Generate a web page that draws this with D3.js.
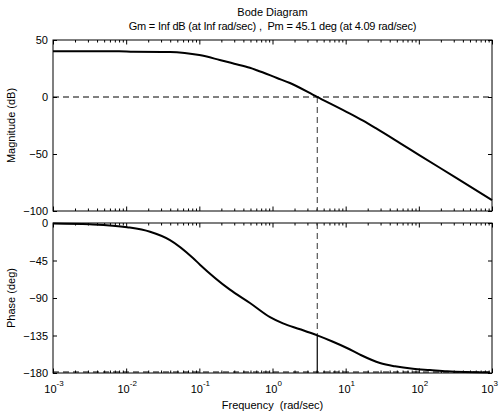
<!DOCTYPE html>
<html>
<head>
<meta charset="utf-8">
<script src="https://cdn.jsdelivr.net/npm/d3@7"></script>
<style>
  body { margin: 0; background: #fff; }
  svg { display: block; font-family: "Liberation Sans", Arial, sans-serif; }
  text { white-space: pre; }
</style>
</head>
<body>
<div id="chart"></div>
<script>
// values
var magFreq = [0.001, 0.008, 0.0126, 0.04, 0.063, 0.1, 0.19, 0.3, 0.49, 0.61, 1.15, 1.73, 4.06, 10.4, 17.3, 26.8, 55.2, 100, 316, 1000];
var magDb = [40.2, 40.2, 39.6, 39.4, 38.6, 36.8, 32.5, 29.2, 25.6, 23.5, 16.7, 12.3, 0.1, -13.2, -20.8, -28, -40.4, -50.7, -70.5, -90.4];

var phFreq = [0.001, 0.00316, 0.0103, 0.0212, 0.0397, 0.0818, 0.102, 0.262, 0.492, 0.925, 1.39, 2.38, 4.09, 6.71, 10.4, 15.7, 29.4, 47.2, 83.2, 142, 243, 938];
var phDeg = [-0.5, -1.5, -5, -10.5, -20.5, -42, -50, -80, -96, -113, -120.5, -127.5, -134.9, -142.5, -150, -158, -168, -172, -175, -176.5, -178, -179.5];

var magTicks = [50, 0, -50, -100];
var phTicks = [0, -45, -90, -135, -180];
var decadeExps = [-3, -2, -1, 0, 1, 2, 3];

var wc = 4.09;   // crossover (rad/sec)
var pm = 45.1;   // phase margin (deg)

var W = 499, H = 416;
var left = 53, right = 492;
var magTop = 40, magBottom = 211;
var phTop = 223, phBottom = 373;

var svg = d3.select("#chart").append("svg").attr("width", W).attr("height", H);

var x = d3.scaleLog().domain([1e-3, 1e3]).range([left, right]);
var yMag = d3.scaleLinear().domain([-100, 50]).range([magBottom, magTop]);
var yPh = d3.scaleLinear().domain([-180, 0]).range([phBottom, phTop]);

var majorX = decadeExps.map(function (e) { return Math.pow(10, e); });
var minorX = [];
decadeExps.slice(0, -1).forEach(function (e) {
    for (var k = 2; k <= 9; k++) minorX.push(k * Math.pow(10, e));
});

function frame(yScale, top, bottom, ticks, withXLabels) {
    var g = svg.append("g");

    // inward ticks: x minor/major on top and bottom
    [[d3.axisTop, top], [d3.axisBottom, bottom]].forEach(function (p) {
        g.append("g").attr("transform", "translate(0," + p[1] + ")")
            .call(p[0](x).tickValues(minorX).tickSizeInner(-2.5).tickSizeOuter(0).tickFormat(""));
        g.append("g").attr("transform", "translate(0," + p[1] + ")")
            .call(p[0](x).tickValues(majorX).tickSizeInner(-4.5).tickSizeOuter(0).tickFormat(""));
    });

    var yl = g.append("g").attr("transform", "translate(" + left + ",0)")
        .call(d3.axisLeft(yScale).tickValues(ticks).tickSizeInner(-4).tickSizeOuter(0).tickPadding(5));
    g.append("g").attr("transform", "translate(" + right + ",0)")
        .call(d3.axisRight(yScale).tickValues(ticks).tickSizeInner(-4).tickSizeOuter(0).tickFormat(""));
    yl.selectAll("text").attr("font-size", 11).attr("font-family", null).attr("fill", "#000");

    g.selectAll(".domain").remove();
    g.selectAll(".tick line").attr("stroke", "#000");

    g.append("rect")
        .attr("x", left).attr("y", top)
        .attr("width", right - left).attr("height", bottom - top)
        .attr("fill", "none").attr("stroke", "#000").attr("stroke-width", 1);

    if (withXLabels) {
        var last = decadeExps[decadeExps.length - 1];
        var lab = g.selectAll(".xlab").data(decadeExps).enter().append("text")
            .attr("class", "xlab")
            .attr("x", function (e) { return e === last ? W - 1 : x(Math.pow(10, e)) + 1; })
            .attr("y", bottom + 20)
            .attr("text-anchor", function (e) { return e === last ? "end" : "middle"; })
            .attr("font-size", 11);
        lab.append("tspan").text("10");
        lab.append("tspan").attr("dy", -7).attr("font-size", 8)
            .text(function (e) { return String(e); });
    }
    return g;
}

frame(yMag, magTop, magBottom, magTicks, false);
frame(yPh, phTop, phBottom, phTicks, true);

var dash = "6,4";

// magnitude: 0 dB line and crossover marker
svg.append("line")
    .attr("x1", left).attr("x2", right)
    .attr("y1", yMag(0)).attr("y2", yMag(0))
    .attr("stroke", "#000").attr("stroke-dasharray", dash);
svg.append("line")
    .attr("x1", x(wc)).attr("x2", x(wc))
    .attr("y1", yMag(0)).attr("y2", magBottom)
    .attr("stroke", "#333").attr("stroke-dasharray", dash);

// phase: -180 line and margin marker
svg.append("line")
    .attr("x1", left).attr("x2", right)
    .attr("y1", yPh(-180) - 1).attr("y2", yPh(-180) - 1)
    .attr("stroke", "#000").attr("stroke-dasharray", dash);
svg.append("line")
    .attr("x1", x(wc)).attr("x2", x(wc))
    .attr("y1", phTop).attr("y2", yPh(pm - 180))
    .attr("stroke", "#333").attr("stroke-dasharray", dash);
svg.append("line")
    .attr("x1", x(wc)).attr("x2", x(wc))
    .attr("y1", yPh(pm - 180)).attr("y2", phBottom)
    .attr("stroke", "#000").attr("stroke-width", 1.2);

var magLine = d3.line()
    .x(function (d, i) { return x(magFreq[i]); })
    .y(function (d) { return yMag(d); })
    .curve(d3.curveMonotoneX);
var phLine = d3.line()
    .x(function (d, i) { return x(phFreq[i]); })
    .y(function (d) { return yPh(d); })
    .curve(d3.curveMonotoneX);

svg.append("path").attr("d", magLine(magDb))
    .attr("fill", "none").attr("stroke", "#000").attr("stroke-width", 2);
svg.append("path").attr("d", phLine(phDeg))
    .attr("fill", "none").attr("stroke", "#000").attr("stroke-width", 2);

// titles and labels
var cx = (left + right) / 2;
svg.append("text").attr("x", cx).attr("y", 16).attr("text-anchor", "middle")
    .attr("font-size", 11).text("Bode Diagram");
svg.append("text").attr("x", cx).attr("y", 30).attr("text-anchor", "middle")
    .attr("font-size", 11).attr("letter-spacing", -0.2)
    .text("Gm = Inf dB (at Inf rad/sec) ,  Pm = " + pm + " deg (at " + wc + " rad/sec)");
svg.append("text").attr("x", cx).attr("y", 409).attr("text-anchor", "middle")
    .attr("font-size", 11).text("Frequency  (rad/sec)");
svg.append("text")
    .attr("transform", "translate(15," + (magTop + magBottom) / 2 + ") rotate(-90)")
    .attr("text-anchor", "middle").attr("font-size", 11).text("Magnitude (dB)");
svg.append("text")
    .attr("transform", "translate(15," + (phTop + phBottom) / 2 + ") rotate(-90)")
    .attr("text-anchor", "middle").attr("font-size", 11).text("Phase (deg)");
</script>
</body>
</html>
